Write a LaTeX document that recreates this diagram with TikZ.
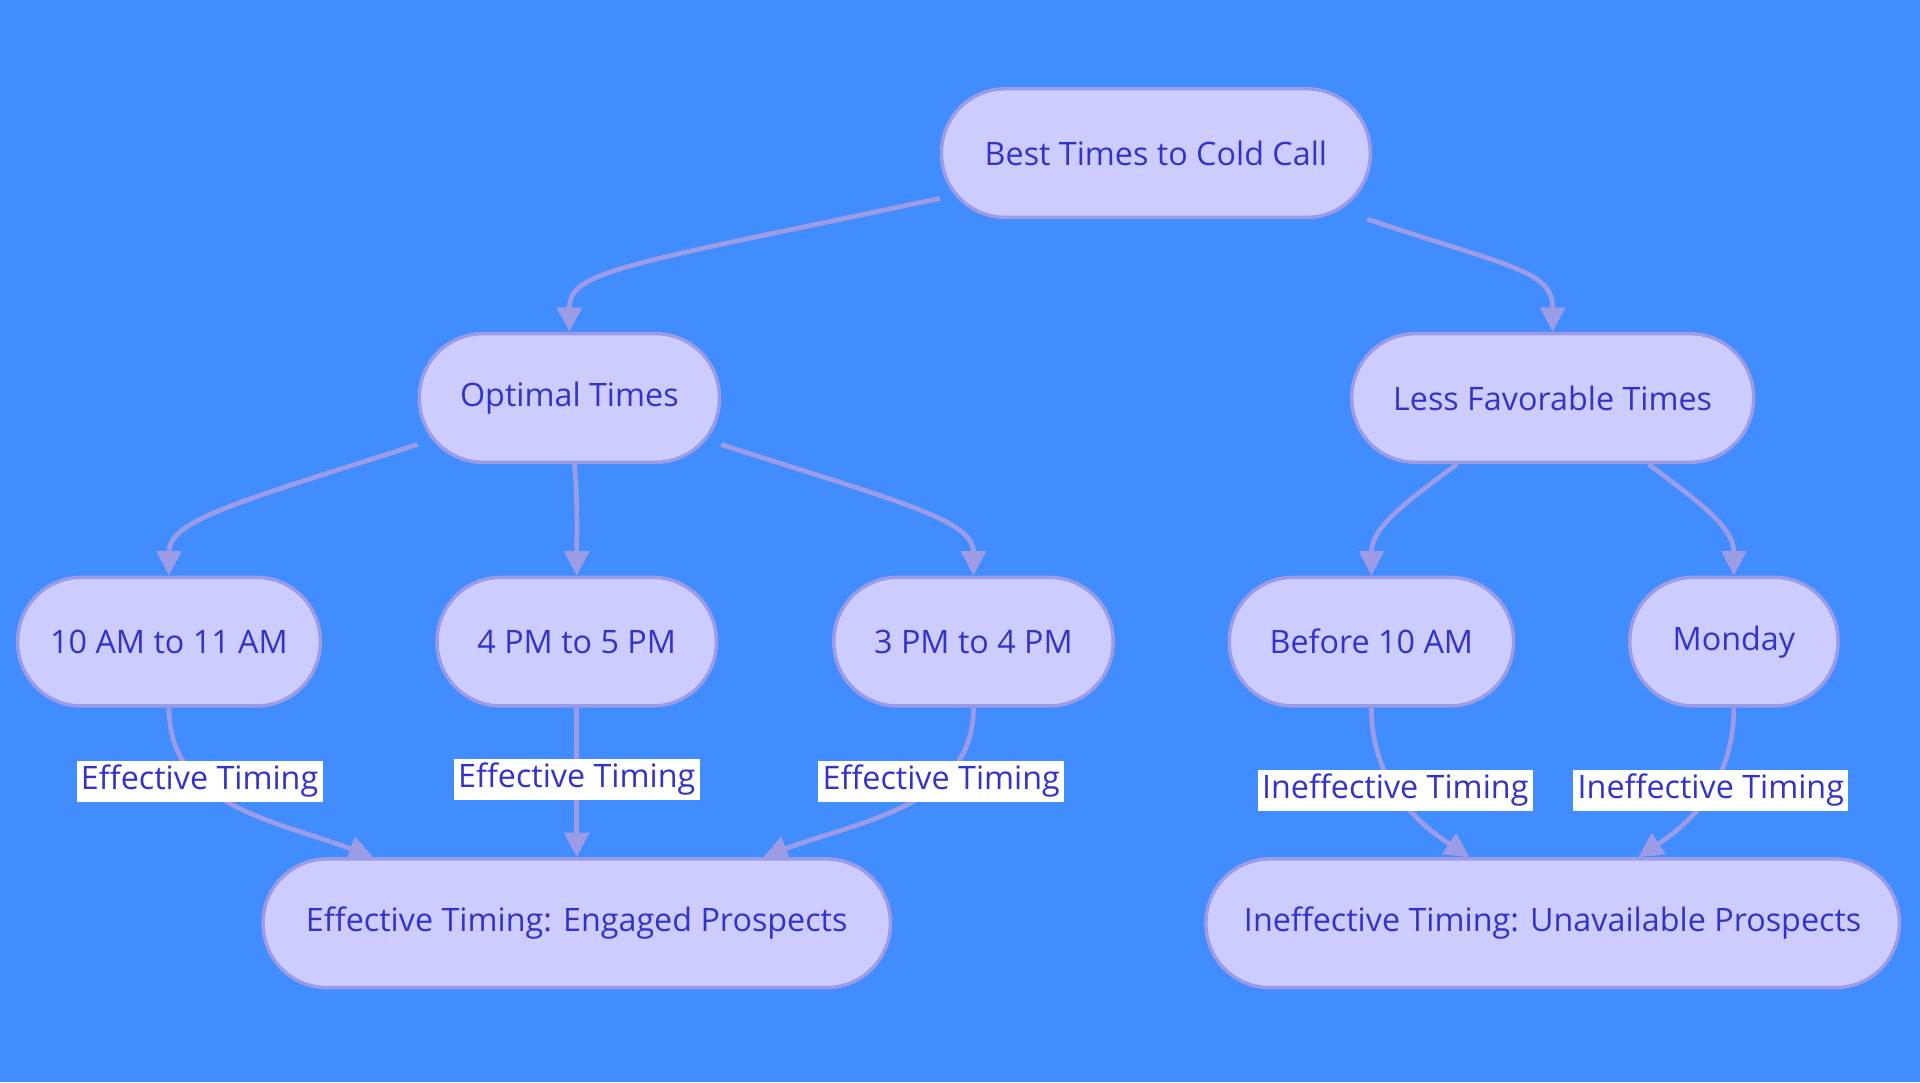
\documentclass[tikz,border=0pt]{standalone}
\usepackage{fontspec}
\setmainfont{Open Sans}
\usetikzlibrary{arrows.meta}
\definecolor{bgblue}{HTML}{418CFF}
\definecolor{boxfill}{HTML}{CCCCFF}
\definecolor{boxline}{HTML}{9B9BE6}
\definecolor{boxtext}{HTML}{3333CC}
\tikzset{
  box/.style={draw=boxline,fill=boxfill,line width=0.8pt,rounded corners=0.52cm,inner xsep=1pt,
    minimum height=1.05cm,text=boxtext,font=\fontsize{7.5}{9}\selectfont},
  link/.style={draw=boxline,line width=1.1pt,-{Triangle[length=0.2cm,width=0.2cm]}},
  lbl/.style={fill=white,text=boxtext,inner sep=1pt,font=\fontsize{7.5}{9}\selectfont}
}
\begin{document}
\begin{tikzpicture}[x=0.01cm,y=-0.01cm]
  \fill[bgblue] (0,0) rectangle (1568,884);
  \useasboundingbox (0,0) rectangle (1568,884);
  % nodes
  \node[box,minimum width=3.5cm] (root) at (944,125) {Best Times to Cold Call};
  \node[box,minimum width=2.45cm] (opt) at (465,325) {Optimal Times};
  \node[box,minimum width=3.28cm] (less) at (1268,325) {Less Favorable Times};
  \node[box,minimum width=2.47cm] (t10) at (138,524) {10 AM to 11 AM};
  \node[box,minimum width=2.28cm] (t4) at (471,524) {4 PM to 5 PM};
  \node[box,minimum width=2.28cm] (t3) at (795,524) {3 PM to 4 PM};
  \node[box,minimum width=2.32cm] (early) at (1120,524) {Before 10 AM};
  \node[box,minimum width=1.70cm] (mon) at (1416,524) {Monday};
  \node[box,minimum width=5.12cm] (eff) at (471,754) {Effective Timing: Engaged Prospects};
  \node[box,minimum width=5.66cm] (ineff) at (1268,754) {Ineffective Timing: Unavailable Prospects};
  % upper links
  \draw[link] ([yshift=-0.37cm]root.west) .. controls +(-260,55) and +(0,-50) .. (opt.north);
  \draw[link] ([xshift=-0.04cm]root.south east) .. controls +(120,40) and +(0,-50) .. (less.north);
  \draw[link] ([yshift=-0.38cm]opt.west) .. controls +(-150,48) and +(0,-45) .. (t10.north);
  \draw[link] ([xshift=0.04cm]opt.south) .. controls +(3,30) and +(0,-30) .. (t4.north);
  \draw[link] ([yshift=-0.38cm]opt.east) .. controls +(150,48) and +(0,-45) .. (t3.north);
  \draw[link] ([xshift=-0.78cm]less.south) .. controls +(-40,30) and +(0,-40) .. (early.north);
  \draw[link] ([xshift=0.78cm]less.south) .. controls +(40,30) and +(0,-40) .. (mon.north);
  % lower links
  \draw[link] (t10.south) .. controls +(0,80) and +(-80,-30) .. ([xshift=-1.66cm]eff.north)
    node[lbl,pos=0.33] {Effective Timing};
  \draw[link] (t4.south) -- (eff.north) node[lbl,pos=0.48] {Effective Timing};
  \draw[link] (t3.south) .. controls +(0,80) and +(80,-30) .. ([xshift=1.52cm]eff.north)
    node[lbl,pos=0.33] {Effective Timing};
  \draw[link] (early.south) .. controls +(0,70) and +(-30,-20) .. ([xshift=-0.68cm]ineff.north)
    node[lbl,pos=0.4] {Ineffective Timing};
  \draw[link] (mon.south) .. controls +(0,70) and +(30,-20) .. ([xshift=0.7cm]ineff.north)
    node[lbl,pos=0.4] {Ineffective Timing};
\end{tikzpicture}
\end{document}
